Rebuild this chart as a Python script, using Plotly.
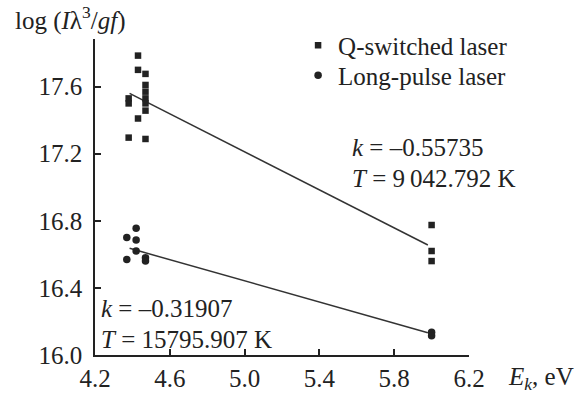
import plotly.graph_objects as go

# Q-switched laser data (squares)
q_x = [4.43, 4.43, 4.47, 4.47, 4.47, 4.47, 4.47, 4.38, 4.38, 4.47, 4.43, 4.38, 4.47, 6.0, 6.0, 6.0]
q_y = [17.785, 17.70, 17.676, 17.61, 17.57, 17.53, 17.50, 17.53, 17.50, 17.457, 17.41, 17.296, 17.288, 16.775, 16.62, 16.56]

# Long-pulse laser data (circles)
l_x = [4.42, 4.37, 4.42, 4.42, 4.37, 4.47, 4.47, 6.0, 6.0]
l_y = [16.755, 16.70, 16.685, 16.62, 16.57, 16.58, 16.56, 16.135, 16.115]

# Fit lines (end points)
q_fit_x = [4.385, 5.98]
q_fit_y = [17.56, 16.656]
l_fit_x = [4.385, 5.98]
l_fit_y = [16.636, 16.133]

x_ticks = [4.2, 4.6, 5.0, 5.4, 5.8, 6.2]
y_ticks = [16.0, 16.4, 16.8, 17.2, 17.6]

FONT = "Liberation Serif, Times New Roman, serif"
INK = "#222222"

fig = go.Figure()
fig.add_trace(go.Scatter(x=q_fit_x, y=q_fit_y, mode="lines",
                         line=dict(color="#333333", width=1.5), showlegend=False, hoverinfo="skip"))
fig.add_trace(go.Scatter(x=l_fit_x, y=l_fit_y, mode="lines",
                         line=dict(color="#333333", width=1.5), showlegend=False, hoverinfo="skip"))
fig.add_trace(go.Scatter(x=q_x, y=q_y, mode="markers", name="Q-switched laser",
                         marker=dict(symbol="square", size=6.5, color=INK), legend="legend"))
fig.add_trace(go.Scatter(x=l_x, y=l_y, mode="markers", name="Long-pulse laser",
                         marker=dict(symbol="circle", size=7.5, color=INK), legend="legend2"))

axis_common = dict(showgrid=False, zeroline=False, showline=True, linecolor=INK, linewidth=1.5,
                   ticks="inside", ticklen=6, tickwidth=1.5, tickcolor=INK,
                   tickfont=dict(family=FONT, size=25, color=INK), tickformat=".1f")

legend_common = dict(x=0.543, xanchor="left", yanchor="top",
                     font=dict(family=FONT, size=25, color=INK), bgcolor="rgba(0,0,0,0)",
                     itemwidth=30)

fig.update_layout(
    width=581, height=407,
    margin=dict(l=95, r=112, t=39, b=52),
    plot_bgcolor="white", paper_bgcolor="white",
    font=dict(family=FONT, size=25, color=INK),
    xaxis=dict(range=[4.2, 6.2], tickvals=x_ticks, **axis_common),
    yaxis=dict(range=[16.0, 17.884], tickvals=y_ticks, ticklabelstandoff=6, **axis_common),
    legend=dict(y=1.052, **legend_common),
    legend2=dict(y=0.957, **legend_common),
    showlegend=True,
)

annots = [
    dict(x=5.565, y=17.24, text="<i>k</i> = –0.55735"),
    dict(x=5.565, y=17.055, text="<i>T</i> = 9\u2009042.792 K"),
    dict(x=4.222, y=16.28, text="<i>k</i> = –0.31907"),
    dict(x=4.222, y=16.095, text="<i>T</i> = 15795.907 K"),
]
for a in annots:
    fig.add_annotation(x=a["x"], y=a["y"], xref="x", yref="y", text=a["text"], showarrow=False,
                       xanchor="left", yanchor="middle", font=dict(family=FONT, size=25, color=INK))

# axis titles
fig.add_annotation(x=-0.22, y=1.066, xref="paper", yref="paper",
                   text="log (<i>I</i>λ<sup>3</sup>/<i>gf</i>)", showarrow=False,
                   xanchor="left", yanchor="middle", font=dict(family=FONT, size=25, color=INK))
fig.add_annotation(x=1.1, y=-0.073, xref="paper", yref="paper",
                   text="<i>E<sub>k</sub></i>, eV", showarrow=False,
                   xanchor="left", yanchor="middle", font=dict(family=FONT, size=25, color=INK))

fig.write_html("out.html")
